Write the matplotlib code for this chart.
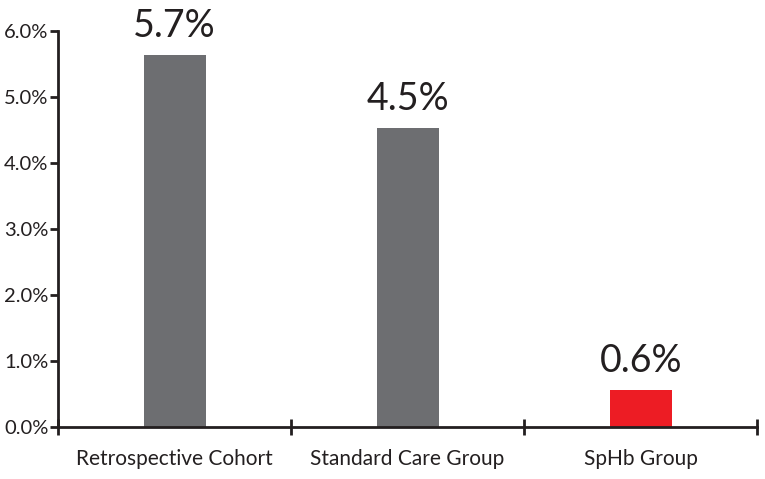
import matplotlib.pyplot as plt
from matplotlib.ticker import FuncFormatter, FixedLocator

groups = ["Retrospective Cohort", "Standard Care Group", "SpHb Group"]
rates = [5.64, 4.53, 0.56]
rate_labels = ["5.7%", "4.5%", "0.6%"]
colors = ["#6d6e71", "#6d6e71", "#ed1c24"]

plt.rcParams['font.family'] = ['Lato', 'DejaVu Sans']

fig = plt.figure(figsize=(7.65, 4.79), dpi=100)
ax = fig.add_axes([0.0758, 0.1086, 0.914, 0.826])

x = range(len(groups))
bars = ax.bar(x, rates, width=0.266, color=colors)

for b, lab in zip(bars, rate_labels):
    ax.annotate(lab, (b.get_x() + b.get_width() / 2, b.get_height()),
                xytext=(0, 8), textcoords='offset points',
                ha='center', va='bottom', fontsize=27, color='#231f20')

ax.set_xlim(-0.5, len(groups) - 0.5)
ax.set_ylim(0, 6)
ax.set_yticks([0, 1, 2, 3, 4, 5, 6])
ax.yaxis.set_major_formatter(FuncFormatter(lambda v, p: f"{v:.1f}%"))
ax.set_xticks(list(x))
ax.set_xticklabels(groups, fontsize=15, color='#231f20')
ax.xaxis.set_minor_locator(FixedLocator([-0.5, 0.5, 1.5, 2.5]))

ax.tick_params(axis='x', which='major', length=0, pad=16)
ax.tick_params(axis='x', which='minor', direction='inout', length=12, width=2, color='#231f20')
ax.tick_params(axis='y', direction='out', length=6, width=2, color='#231f20',
               labelsize=14.5, labelcolor='#231f20', pad=1)

for s in ['top', 'right']:
    ax.spines[s].set_visible(False)
for s in ['left', 'bottom']:
    ax.spines[s].set_linewidth(2)
    ax.spines[s].set_color('#231f20')

fig.savefig("out.png", dpi=100)
